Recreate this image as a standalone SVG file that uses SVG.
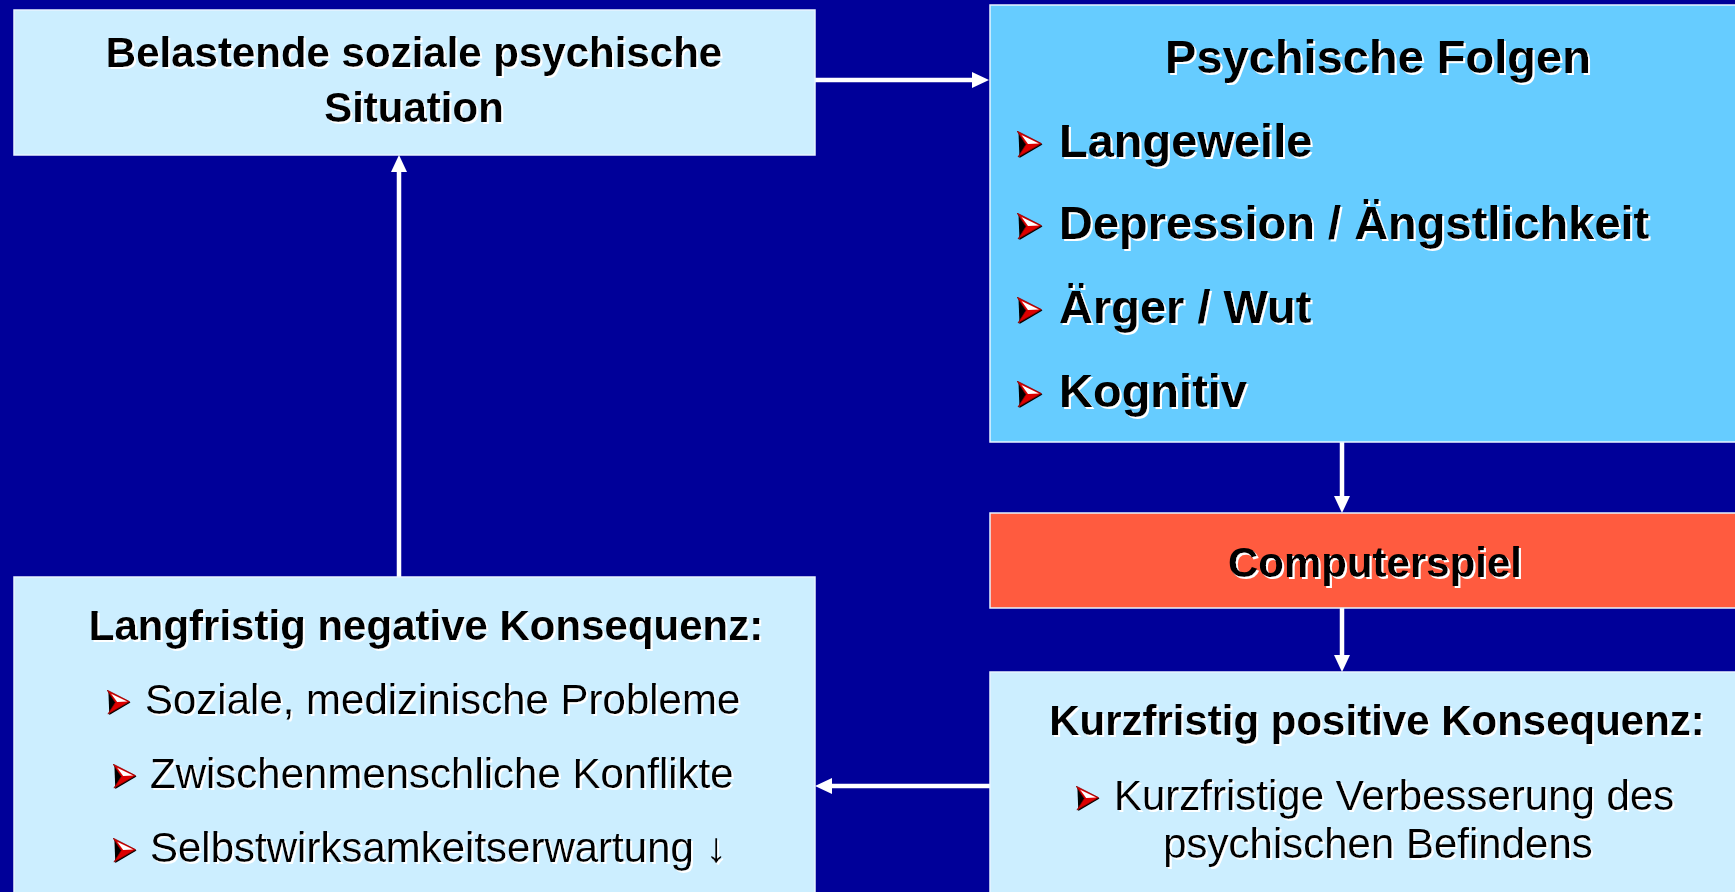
<svg xmlns="http://www.w3.org/2000/svg" width="1735" height="892" viewBox="0 0 1735 892">
<style>
.bg{fill:#000099}
.box{stroke:#e8f4ff;stroke-width:1.5}
.light{fill:#cceeff}
.cyan{fill:#66ccff}
.red{fill:#ff5b3f}
text{font-family:"Liberation Sans",Arial,sans-serif;fill:#000;filter:url(#sh)}
.b42{font-size:42px;font-weight:bold}
.b47{font-size:47px;font-weight:bold}
.r42{font-size:42px}
.mid{text-anchor:middle}
.conn{stroke:#ffffff;stroke-width:4.5;fill:none}
</style>
<defs>
<filter id="sh" x="-5%" y="-20%" width="110%" height="140%">
<feDropShadow dx="2" dy="2" stdDeviation="0" flood-color="#ffffff" flood-opacity="1"/>
</filter>
<marker id="ah" markerUnits="userSpaceOnUse" markerWidth="17" markerHeight="16" refX="7" refY="8" orient="auto">
<path d="M0,0 L17,8 L0,16 z" fill="#ffffff"/>
</marker>
<symbol id="bul" viewBox="0 0 26 27">
<polygon points="1.5,1.5 25.5,13.5 2.5,27" fill="#000000"/>
<polygon points="0,0 24.5,12.5 1,26 9,13.5" fill="#dd0000" stroke="#8a0000" stroke-width="0.8"/>
<polygon points="4.5,4 22,12.5 11,13" fill="#ffffff"/>
</symbol>
</defs>
<rect class="bg" x="0" y="0" width="1735" height="892"/>

<g id="connectors">
<line class="conn" x1="815" y1="80" x2="979" y2="80" marker-end="url(#ah)"/>
<line class="conn" x1="1342" y1="442" x2="1342" y2="503" marker-end="url(#ah)"/>
<line class="conn" x1="1342" y1="608" x2="1342" y2="662" marker-end="url(#ah)"/>
<line class="conn" x1="990" y1="786" x2="825" y2="786" marker-end="url(#ah)"/>
<line class="conn" x1="399" y1="577" x2="399" y2="165" marker-end="url(#ah)"/>
</g>

<g id="belastende">
<rect class="box light" x="14" y="10" width="801" height="145"/>
<text class="b42 mid" x="414" y="67">Belastende soziale psychische</text>
<text class="b42 mid" x="414" y="122">Situation</text>
</g>

<g id="psychische-folgen">
<rect class="box cyan" x="990" y="5" width="760" height="437"/>
<text class="b47 mid" x="1378" y="73">Psychische Folgen</text>
<use href="#bul" x="1017" y="131" width="26" height="27"/>
<text class="b47" x="1059" y="157">Langeweile</text>
<use href="#bul" x="1017" y="213" width="26" height="27"/>
<text class="b47" x="1059" y="239">Depression / Ängstlichkeit</text>
<use href="#bul" x="1017" y="297" width="26" height="27"/>
<text class="b47" x="1059" y="323">Ärger / Wut</text>
<use href="#bul" x="1017" y="381" width="26" height="27"/>
<text class="b47" x="1059" y="407">Kognitiv</text>
</g>

<g id="computerspiel">
<rect class="box red" x="990" y="513" width="760" height="95"/>
<text class="b42 mid" x="1375" y="577">Computerspiel</text>
</g>

<g id="kurzfristig">
<rect class="box light" x="990" y="672" width="760" height="230"/>
<text class="b42 mid" x="1377" y="735">Kurzfristig positive Konsequenz:</text>
<use href="#bul" x="1076" y="786" width="24" height="25"/>
<text class="r42" x="1114" y="810">Kurzfristige Verbesserung des</text>
<text class="r42 mid" x="1378" y="858">psychischen Befindens</text>
</g>

<g id="langfristig">
<rect class="box light" x="14" y="577" width="801" height="320"/>
<text class="b42 mid" x="426" y="640">Langfristig negative Konsequenz:</text>
<use href="#bul" x="107" y="690" width="24" height="25"/>
<text class="r42" x="145" y="714">Soziale, medizinische Probleme</text>
<use href="#bul" x="113" y="764" width="24" height="25"/>
<text class="r42" x="150" y="788">Zwischenmenschliche Konflikte</text>
<use href="#bul" x="113" y="838" width="24" height="25"/>
<text class="r42" x="150" y="862">Selbstwirksamkeitserwartung ↓</text>
</g>
</svg>
